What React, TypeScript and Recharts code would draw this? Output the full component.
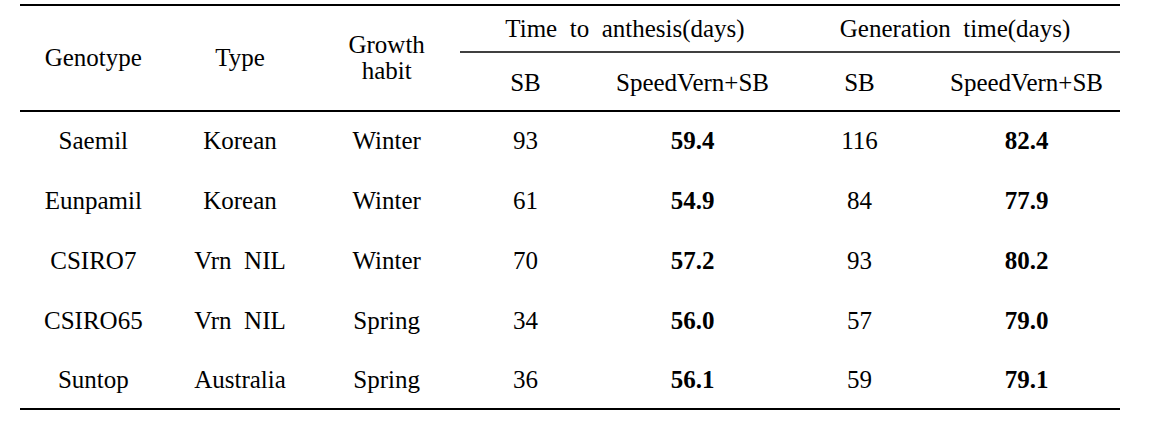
import React from "react";
import { ScatterChart, Scatter, XAxis, YAxis } from "recharts";

// table values
const genotypes = ["Saemil", "Eunpamil", "CSIRO7", "CSIRO65", "Suntop"];
const types = ["Korean", "Korean", "Vrn  NIL", "Vrn  NIL", "Australia"];
const habits = ["Winter", "Winter", "Winter", "Spring", "Spring"];
const anthesisSB = [93, 61, 70, 34, 36];
const anthesisSpeedVern = [59.4, 54.9, 57.2, 56.0, 56.1];
const generationSB = [116, 84, 93, 57, 59];
const generationSpeedVern = [82.4, 77.9, 80.2, 79.0, 79.1];

// headers
const leftCols = ["genotype", "type", "habit"];
const leftHeaders = ["Genotype", "Type", "Growth\nhabit"];
const groupCols = ["anthesis", "generation"];
const groupHeaders = ["Time  to  anthesis(days)", "Generation  time(days)"];
const rightCols = ["aSB", "aSV", "gSB", "gSV"];
const subHeaders = ["SB", "SpeedVern+SB", "SB", "SpeedVern+SB"];

const W = 1156;
const H = 425;
const FONT = "Liberation Serif, Times New Roman, serif";

// table frame (rules)
const T_LEFT = 20;
const T_RIGHT = 1120;
const GROUP_LEFT = 460;
const HEAD_TOP = 5;
const HEAD_MID = 52;
const HEAD_BOTTOM = 111;
const T_BOTTOM = 409;

const leftBody = genotypes.flatMap((g, i) => [
  { col: leftCols[0], row: g, text: g },
  { col: leftCols[1], row: g, text: types[i] },
  { col: leftCols[2], row: g, text: habits[i] },
]);

const rightBody = genotypes.flatMap((g, i) => [
  { col: rightCols[0], row: g, text: String(anthesisSB[i]) },
  { col: rightCols[1], row: g, text: anthesisSpeedVern[i].toFixed(1), bold: true },
  { col: rightCols[2], row: g, text: String(generationSB[i]) },
  { col: rightCols[3], row: g, text: generationSpeedVern[i].toFixed(1), bold: true },
]);

const leftHead = leftCols.map((c, i) => ({ col: c, span: "all", text: leftHeaders[i] }));
const groupHead = groupCols.map((c, i) => ({ grp: c, level: "group", text: groupHeaders[i] }));
const subHead = rightCols.map((c, i) => ({ col: c, level: "sub", text: subHeaders[i] }));

const CellText = (props: any) => {
  const { cx, cy, payload } = props;
  const lines = String(payload.text).split("\n");
  const fs = 25;
  const lh = 26;
  const top = cy + fs * 0.33 - ((lines.length - 1) * lh) / 2;
  return (
    <text
      textAnchor="middle"
      fill="#000"
      style={{
        whiteSpace: "pre",
        fontFamily: FONT,
        fontSize: fs,
        fontWeight: payload.bold ? 700 : 400,
      }}
    >
      {lines.map((l, i) => (
        <tspan key={i} x={cx} y={top + i * lh}>
          {l}
        </tspan>
      ))}
    </text>
  );
};

export default function App() {
  return (
    <div style={{ position: "absolute", left: 0, top: 0, background: "#fff" }}>
      <ScatterChart width={W} height={H} margin={{ top: 0, right: 0, bottom: 0, left: 0 }}>
        <XAxis xAxisId="left" dataKey="col" type="category" allowDuplicatedCategory={false}
          scale="band" padding={{ left: T_LEFT, right: W - GROUP_LEFT }} hide />
        <XAxis xAxisId="right" dataKey="col" type="category" allowDuplicatedCategory={false}
          scale="band" padding={{ left: 442, right: 46 }} hide />
        <XAxis xAxisId="group" dataKey="grp" type="category" allowDuplicatedCategory={false}
          scale="band" padding={{ left: GROUP_LEFT, right: W - T_RIGHT }} hide />

        <YAxis yAxisId="rows" dataKey="row" type="category" allowDuplicatedCategory={false}
          scale="band" reversed padding={{ top: HEAD_BOTTOM, bottom: H - T_BOTTOM - 1 }} hide />
        <YAxis yAxisId="head" dataKey="level" type="category" allowDuplicatedCategory={false}
          scale="band" reversed padding={{ top: 2, bottom: H - HEAD_BOTTOM + 1 }} hide />
        <YAxis yAxisId="span" dataKey="span" type="category" allowDuplicatedCategory={false}
          scale="band" reversed padding={{ top: HEAD_TOP, bottom: H - HEAD_BOTTOM }} hide />

        <g stroke="#000">
          <line x1={T_LEFT} x2={T_RIGHT} y1={HEAD_TOP} y2={HEAD_TOP} strokeWidth={2} />
          <line x1={GROUP_LEFT} x2={T_RIGHT} y1={HEAD_MID} y2={HEAD_MID} strokeWidth={1.4} />
          <line x1={T_LEFT} x2={T_RIGHT} y1={HEAD_BOTTOM} y2={HEAD_BOTTOM} strokeWidth={2} />
          <line x1={T_LEFT} x2={T_RIGHT} y1={T_BOTTOM} y2={T_BOTTOM} strokeWidth={2} />
        </g>

        <Scatter data={leftHead} xAxisId="left" yAxisId="span" shape={CellText} isAnimationActive={false} />
        <Scatter data={groupHead} xAxisId="group" yAxisId="head" shape={CellText} isAnimationActive={false} />
        <Scatter data={subHead} xAxisId="right" yAxisId="head" shape={CellText} isAnimationActive={false} />
        <Scatter data={leftBody} xAxisId="left" yAxisId="rows" shape={CellText} isAnimationActive={false} />
        <Scatter data={rightBody} xAxisId="right" yAxisId="rows" shape={CellText} isAnimationActive={false} />
      </ScatterChart>
    </div>
  );
}
